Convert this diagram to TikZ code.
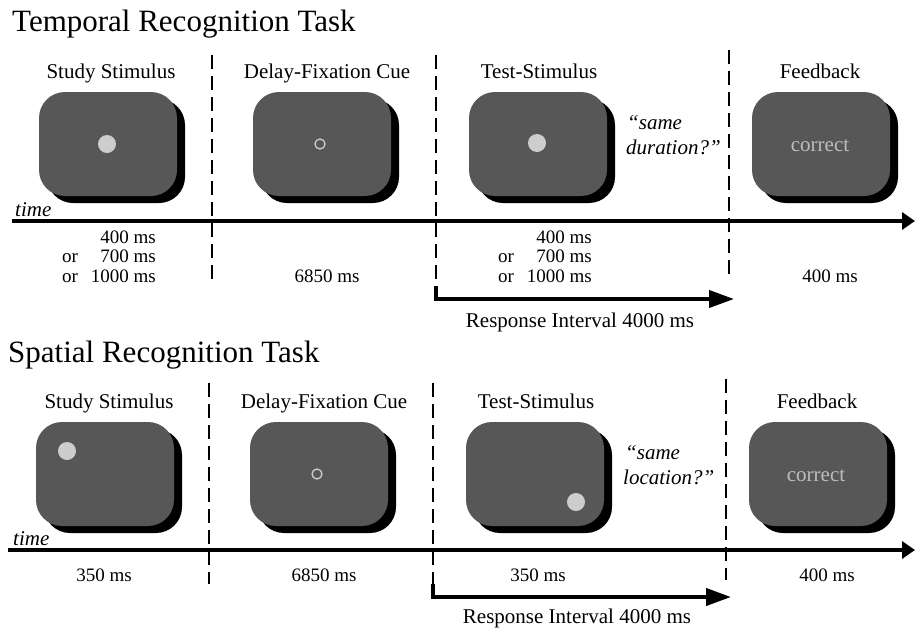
\documentclass[tikz,border=0pt]{standalone}
\usepackage{fontspec}
\setmainfont{Liberation Serif}
\usetikzlibrary{arrows.meta,shadows}
\definecolor{screengray}{HTML}{575757}
\definecolor{dotgray}{HTML}{CDCDCD}
\definecolor{txtgray}{HTML}{BDBDBD}
\newcommand{\orrows}[3]{\begin{tabular}[t]{@{}l@{\hspace{13pt}}r@{}}&#1\\or&#2\\or&#3\end{tabular}}

\begin{document}
\begin{tikzpicture}[x=1pt,y=-1pt,
  title/.style={anchor=base west, inner sep=0, font=\fontsize{31}{36}\selectfont},
  head/.style={anchor=base, inner sep=0, font=\fontsize{21}{25}\selectfont},
  timing/.style={anchor=base, inner sep=0, font=\fontsize{19}{19.5}\selectfont},
  timings/.style={anchor=base east, inner sep=0, font=\fontsize{19}{19.5}\selectfont},
  ask/.style={anchor=base west, inner sep=0, font=\fontsize{21}{25}\selectfont\itshape},
  timelbl/.style={anchor=base west, inner sep=0, font=\fontsize{21}{25}\selectfont\itshape},
  screen/.style={rectangle, rounded corners=26pt, fill=screengray,
    minimum width=138pt, minimum height=104pt, inner sep=0,
    drop shadow={shadow xshift=8pt, shadow yshift=-7pt, fill=black, opacity=1}},
  dot/.style={circle, fill=dotgray, minimum size=18pt, inner sep=0},
  ring/.style={circle, draw=dotgray, line width=1.3pt, minimum size=10pt, inner sep=0},
  fbtext/.style={anchor=base, inner sep=0, text=txtgray, font=\fontsize{21}{25}\selectfont},
  axis/.style={line width=4pt, -{Triangle[length=13pt,width=17pt]}},
  divider/.style={line width=1.8pt, dash pattern=on 14pt off 7pt},
  resp/.style={line width=4pt, -{Triangle[length=25pt,width=17pt]}},
]
\useasboundingbox (0,0) rectangle (915,630);

% ---------------- Temporal recognition task ----------------
\node[title] (ttitle) at (12,31) {Temporal Recognition Task};

\node[head] (th1) at (111,78) {Study Stimulus};
\node[head] (th2) at (327,78) {Delay-Fixation Cue};
\node[head] (th3) at (539,78) {Test-Stimulus};
\node[head] (th4) at (820,78) {Feedback};

\node[screen] (ts1) at (108,144) {};
\node[screen] (ts2) at (322,144) {};
\node[screen] (ts3) at (538,144) {};
\node[screen] (ts4) at (821,144) {};

\node[dot]  (td1) at (107,144) {};
\node[ring] (tr2) at (320,144) {};
\node[dot]  (td3) at (537,143) {};
\node[fbtext] (tc4) at (820,151) {correct};

\node[ask] (tq1) at (627,129) {“same};
\node[ask] (tq2) at (626,154) {duration?”};

\coordinate (tv1a) at (212,55);  \coordinate (tv1b) at (212,285);
\coordinate (tv2a) at (436,55);  \coordinate (tv2b) at (436,287);
\coordinate (tv3a) at (729,50);  \coordinate (tv3b) at (729,281);
\draw[divider] (tv1a) -- (tv1b);
\draw[divider] (tv2a) -- (tv2b);
\draw[divider] (tv3a) -- (tv3b);

\node[timelbl] (ttime) at (15,216) {time};
\coordinate (tax0) at (12,221);
\coordinate (tax1) at (915,221);
\draw[axis] (tax0) -- (tax1);

\node[timings] (tt1) at (156,243) {\orrows{400 ms}{700 ms}{1000 ms}};
\node[timing]  (tt2) at (327,282) {6850 ms};
\node[timings] (tt3) at (592,243) {\orrows{400 ms}{700 ms}{1000 ms}};
\node[timing]  (tt4) at (830,282) {400 ms};

\coordinate (tra) at (436,286);
\coordinate (trb) at (734,299);
\draw[resp] (tra) |- (trb);
\node[head] (trl) at (580,327) {Response Interval 4000 ms};

% ---------------- Spatial recognition task ----------------
\node[title] (stitle) at (8,362) {Spatial Recognition Task};

\node[head] (sh1) at (109,408) {Study Stimulus};
\node[head] (sh2) at (324,408) {Delay-Fixation Cue};
\node[head] (sh3) at (536,408) {Test-Stimulus};
\node[head] (sh4) at (817,408) {Feedback};

\node[screen] (ss1) at (105,474) {};
\node[screen] (ss2) at (319,474) {};
\node[screen] (ss3) at (535,474) {};
\node[screen] (ss4) at (818,474) {};

\node[dot]  (sd1) at (67,451) {};
\node[ring] (sr2) at (317,474) {};
\node[dot]  (sd3) at (576,502) {};
\node[fbtext] (sc4) at (816,481) {correct};

\node[ask] (sq1) at (625,459) {“same};
\node[ask] (sq2) at (623,484) {location?”};

\coordinate (sv1a) at (209,383);  \coordinate (sv1b) at (209,584);
\coordinate (sv2a) at (433,383);  \coordinate (sv2b) at (433,585);
\coordinate (sv3a) at (726,379);  \coordinate (sv3b) at (726,580);
\draw[divider] (sv1a) -- (sv1b);
\draw[divider] (sv2a) -- (sv2b);
\draw[divider] (sv3a) -- (sv3b);

\node[timelbl] (stime) at (13,545) {time};
\coordinate (sax0) at (8,550);
\coordinate (sax1) at (915,550);
\draw[axis] (sax0) -- (sax1);

\node[timing] (st1) at (104,581) {350 ms};
\node[timing] (st2) at (324,581) {6850 ms};
\node[timing] (st3) at (538,581) {350 ms};
\node[timing] (st4) at (827,581) {400 ms};

\coordinate (sra) at (433,584);
\coordinate (srb) at (731,597);
\draw[resp] (sra) |- (srb);
\node[head] (srl) at (577,623) {Response Interval 4000 ms};
\end{tikzpicture}
\end{document}
